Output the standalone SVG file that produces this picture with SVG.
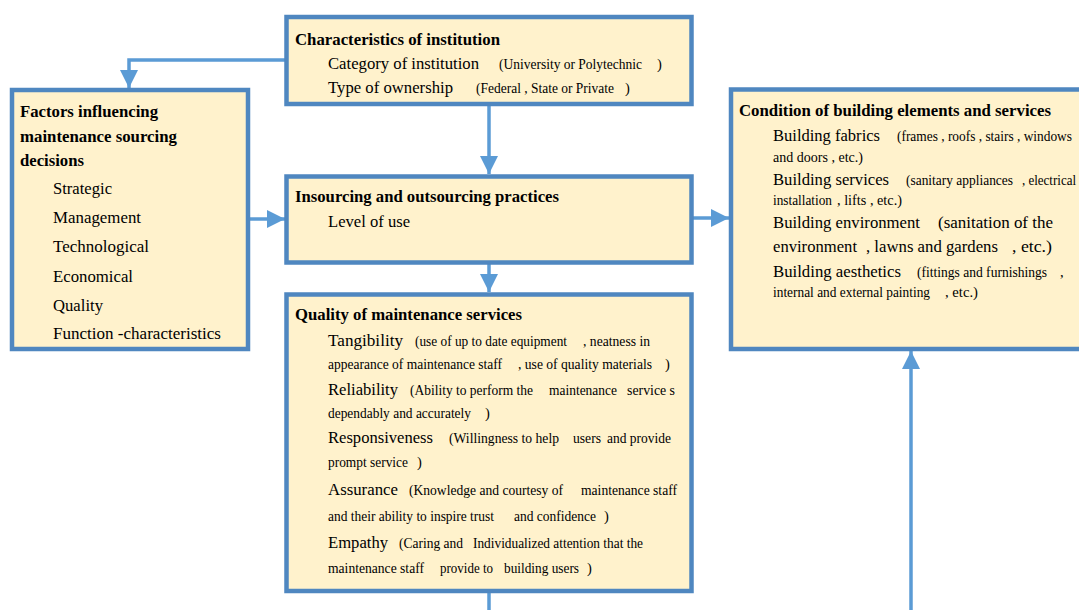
<svg xmlns="http://www.w3.org/2000/svg" width="1079" height="610" viewBox="0 0 1079 610">
<style>
.box{fill:#fff2cc;stroke:#4f87c0;stroke-width:4.5}
.c{fill:none;stroke:#5b9bd5;stroke-width:3.5}
text{font-family:"Liberation Serif","Times New Roman",serif;fill:#000}
.b{font-size:16.5px;font-weight:bold}
.t{font-size:17.5px}
.s{font-size:14.5px}
</style>
<defs>
<marker id="ah" markerUnits="userSpaceOnUse" markerWidth="18" markerHeight="18" viewBox="0 0 18 18" refX="18" refY="9" orient="auto">
<path d="M0,0 L18,9 L0,18 Z" fill="#5b9bd5"/>
</marker>
</defs>
<rect width="1079" height="610" fill="#fff"/>
<g id="connectors">
<path class="c" d="M286 60 H129 V88" marker-end="url(#ah)"/>
<path class="c" d="M489 104 V174" marker-end="url(#ah)"/>
<path class="c" d="M249 219 H285" marker-end="url(#ah)"/>
<path class="c" d="M489 263 V292" marker-end="url(#ah)"/>
<path class="c" d="M692 218 H729" marker-end="url(#ah)"/>
<path class="c" d="M911 612 V351" marker-end="url(#ah)"/>
<path class="c" d="M489 592 V612"/>
</g>
<g id="characteristics">
<rect class="box" x="286.5" y="17" width="405" height="87"/>
<text class="b" x="295" y="45" textLength="205" lengthAdjust="spacingAndGlyphs">Characteristics of institution</text>
<text class="t" x="328" y="69" textLength="151" lengthAdjust="spacingAndGlyphs">Category of institution</text>
<text class="s" x="499" y="69" textLength="143" lengthAdjust="spacingAndGlyphs">(University or Polytechnic</text>
<text class="s" x="657" y="69">)</text>
<text class="t" x="328" y="93" textLength="125" lengthAdjust="spacingAndGlyphs">Type of ownership</text>
<text class="s" x="476" y="93" textLength="138" lengthAdjust="spacingAndGlyphs">(Federal , State or Private</text>
<text class="s" x="625" y="93">)</text>
</g>
<g id="factors">
<rect class="box" x="12" y="90" width="236" height="259"/>
<text class="b" x="20" y="117" textLength="138" lengthAdjust="spacingAndGlyphs">Factors influencing</text>
<text class="b" x="20" y="142" textLength="157" lengthAdjust="spacingAndGlyphs">maintenance sourcing</text>
<text class="b" x="20" y="166" textLength="64" lengthAdjust="spacingAndGlyphs">decisions</text>
<text class="t" x="53" y="194" textLength="59" lengthAdjust="spacingAndGlyphs">Strategic</text>
<text class="t" x="53" y="223" textLength="88" lengthAdjust="spacingAndGlyphs">Management</text>
<text class="t" x="53" y="252" textLength="96" lengthAdjust="spacingAndGlyphs">Technological</text>
<text class="t" x="53" y="282" textLength="80" lengthAdjust="spacingAndGlyphs">Economical</text>
<text class="t" x="53" y="311" textLength="50" lengthAdjust="spacingAndGlyphs">Quality</text>
<text class="t" x="53" y="339" textLength="168" lengthAdjust="spacingAndGlyphs">Function -characteristics</text>
</g>
<g id="insourcing">
<rect class="box" x="286.5" y="176.5" width="405" height="86"/>
<text class="b" x="295" y="202" textLength="264" lengthAdjust="spacingAndGlyphs">Insourcing and outsourcing practices</text>
<text class="t" x="328" y="227" textLength="82" lengthAdjust="spacingAndGlyphs">Level of use</text>
</g>
<g id="quality">
<rect class="box" x="286.5" y="294.5" width="405" height="296.5"/>
<text class="b" x="295" y="320" textLength="227" lengthAdjust="spacingAndGlyphs">Quality of maintenance services</text>
<text class="t" x="328" y="346" textLength="75" lengthAdjust="spacingAndGlyphs">Tangibility</text>
<text class="s" x="415" y="346" textLength="152" lengthAdjust="spacingAndGlyphs">(use of up to date equipment</text>
<text class="s" x="583" y="346" textLength="67" lengthAdjust="spacingAndGlyphs">, neatness in</text>
<text class="s" x="328" y="369" textLength="174" lengthAdjust="spacingAndGlyphs">appearance of maintenance staff</text>
<text class="s" x="518" y="369" textLength="134" lengthAdjust="spacingAndGlyphs">, use of quality materials</text>
<text class="s" x="665" y="369">)</text>
<text class="t" x="328" y="395" textLength="70" lengthAdjust="spacingAndGlyphs">Reliability</text>
<text class="s" x="410" y="395" textLength="123" lengthAdjust="spacingAndGlyphs">(Ability to perform the</text>
<text class="s" x="549" y="395" textLength="68" lengthAdjust="spacingAndGlyphs">maintenance</text>
<text class="s" x="627" y="395" textLength="48" lengthAdjust="spacingAndGlyphs">service s</text>
<text class="s" x="328" y="418" textLength="143" lengthAdjust="spacingAndGlyphs">dependably and accurately</text>
<text class="s" x="485" y="418">)</text>
<text class="t" x="328" y="443" textLength="105" lengthAdjust="spacingAndGlyphs">Responsiveness</text>
<text class="s" x="449" y="443" textLength="110" lengthAdjust="spacingAndGlyphs">(Willingness to help</text>
<text class="s" x="573" y="443" textLength="28" lengthAdjust="spacingAndGlyphs">users</text>
<text class="s" x="607" y="443" textLength="64" lengthAdjust="spacingAndGlyphs">and provide</text>
<text class="s" x="328" y="467" textLength="80" lengthAdjust="spacingAndGlyphs">prompt service</text>
<text class="s" x="417" y="467">)</text>
<text class="t" x="328" y="495" textLength="70" lengthAdjust="spacingAndGlyphs">Assurance</text>
<text class="s" x="409" y="495" textLength="154" lengthAdjust="spacingAndGlyphs">(Knowledge and courtesy of</text>
<text class="s" x="581" y="495" textLength="96" lengthAdjust="spacingAndGlyphs">maintenance staff</text>
<text class="s" x="328" y="521" textLength="166" lengthAdjust="spacingAndGlyphs">and their ability to inspire trust</text>
<text class="s" x="514" y="521" textLength="82" lengthAdjust="spacingAndGlyphs">and confidence</text>
<text class="s" x="604" y="521">)</text>
<text class="t" x="328" y="548" textLength="60" lengthAdjust="spacingAndGlyphs">Empathy</text>
<text class="s" x="399" y="548" textLength="64" lengthAdjust="spacingAndGlyphs">(Caring and</text>
<text class="s" x="473" y="548" textLength="170" lengthAdjust="spacingAndGlyphs">Individualized attention that the</text>
<text class="s" x="328" y="573" textLength="96" lengthAdjust="spacingAndGlyphs">maintenance staff</text>
<text class="s" x="440" y="573" textLength="53" lengthAdjust="spacingAndGlyphs">provide to</text>
<text class="s" x="504" y="573" textLength="75" lengthAdjust="spacingAndGlyphs">building users</text>
<text class="s" x="587" y="573">)</text>
</g>
<g id="condition">
<rect class="box" x="731" y="89.5" width="360" height="259.5"/>
<text class="b" x="739" y="116" textLength="312" lengthAdjust="spacingAndGlyphs">Condition of building elements and services</text>
<text class="t" x="773" y="141" textLength="107" lengthAdjust="spacingAndGlyphs">Building fabrics</text>
<text class="s" x="897" y="141" textLength="175" lengthAdjust="spacingAndGlyphs">(frames , roofs , stairs , windows</text>
<text class="s" x="773" y="162" textLength="90" lengthAdjust="spacingAndGlyphs">and doors , etc.)</text>
<text class="t" x="773" y="185" textLength="116" lengthAdjust="spacingAndGlyphs">Building services</text>
<text class="s" x="906" y="185" textLength="107" lengthAdjust="spacingAndGlyphs">(sanitary appliances</text>
<text class="s" x="1022" y="185" textLength="54" lengthAdjust="spacingAndGlyphs">, electrical</text>
<text class="s" x="773" y="205" textLength="59" lengthAdjust="spacingAndGlyphs">installation</text>
<text class="s" x="837" y="205" textLength="65" lengthAdjust="spacingAndGlyphs">, lifts , etc.)</text>
<text class="t" x="773" y="228" textLength="147" lengthAdjust="spacingAndGlyphs">Building environment</text>
<text class="t" x="938" y="228" textLength="115" lengthAdjust="spacingAndGlyphs">(sanitation of the</text>
<text class="t" x="773" y="252" textLength="84" lengthAdjust="spacingAndGlyphs">environment</text>
<text class="t" x="866" y="252" textLength="132" lengthAdjust="spacingAndGlyphs">, lawns and gardens</text>
<text class="t" x="1012" y="252" textLength="40" lengthAdjust="spacingAndGlyphs">, etc.)</text>
<text class="t" x="773" y="277" textLength="128" lengthAdjust="spacingAndGlyphs">Building aesthetics</text>
<text class="s" x="917" y="277" textLength="130" lengthAdjust="spacingAndGlyphs">(fittings and furnishings</text>
<text class="s" x="1060" y="277">,</text>
<text class="s" x="773" y="297" textLength="157" lengthAdjust="spacingAndGlyphs">internal and external painting</text>
<text class="s" x="945" y="297" textLength="33" lengthAdjust="spacingAndGlyphs">, etc.)</text>
</g>
</svg>
